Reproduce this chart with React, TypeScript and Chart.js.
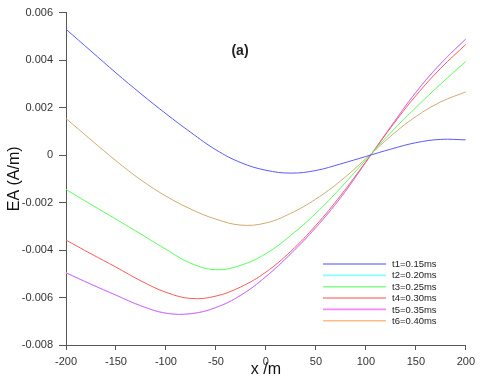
import React, { useEffect, useRef } from "react";
import { Chart, registerables } from "chart.js";

Chart.register(...registerables);

// x positions (m)
const xValues = [-200, -175, -150, -125, -100, -75, -50, -25, 0, 25, 50, 75, 100, 125, 150, 175, 200];
// EA values in units of 1e-3 A/m
const t1 = [5.30, 4.38, 3.46, 2.58, 1.74, 0.95, 0.22, -0.32, -0.64, -0.76, -0.65, -0.37, -0.06, 0.25, 0.52, 0.66, 0.64];
const t2 = [-4.96, -5.44, -5.90, -6.35, -6.66, -6.68, -6.42, -5.90, -5.12, -4.15, -3.05, -1.78, -0.30, 1.20, 2.64, 3.86, 4.89];
const t3 = [-1.45, -2.08, -2.70, -3.33, -3.97, -4.56, -4.83, -4.64, -4.15, -3.38, -2.45, -1.37, -0.20, 0.95, 2.00, 3.00, 3.94];
const t4 = [-3.58, -4.16, -4.72, -5.30, -5.78, -6.04, -5.94, -5.55, -4.93, -4.05, -2.96, -1.69, -0.28, 1.16, 2.50, 3.66, 4.66];
const t5 = [-4.96, -5.44, -5.90, -6.35, -6.66, -6.68, -6.42, -5.90, -5.12, -4.15, -3.05, -1.78, -0.30, 1.20, 2.64, 3.86, 4.89];
const t6 = [1.54, 0.64, -0.24, -1.05, -1.73, -2.28, -2.70, -2.95, -2.86, -2.45, -1.85, -1.08, -0.15, 0.80, 1.62, 2.24, 2.66];
const valueScale = 0.001;

const yTicks = [-0.008, -0.006, -0.004, -0.002, 0, 0.002, 0.004, 0.006];
const xTicks = [-200, -150, -100, -50, 0, 50, 100, 150, 200];

const seriesLabels = ["t1=0.15ms", "t2=0.20ms", "t3=0.25ms", "t4=0.30ms", "t5=0.35ms", "t6=0.40ms"];
const seriesValues = [t1, t2, t3, t4, t5, t6];
const lineColors = ["#5a5aff", "#5affff", "#5aff5a", "#ff5a5a", "#ff5aff", "#d2aa70"];
const legendColors = ["#8888ff", "#88ffff", "#88ff88", "#ff8888", "#ff88ff", "#ffbb88"];
const drawOrder = [0, 10, 0, 0, 0, 0];

const FONT = "'Liberation Sans', Arial, sans-serif";

const legendPlugin = {
  id: "customLegend",
  afterDraw(chart: any) {
    const ctx = chart.ctx;
    ctx.save();
    chart.data.datasets.forEach((ds: any, i: number) => {
      const y = 264 + i * 11.35;
      ctx.strokeStyle = legendColors[i];
      ctx.lineWidth = 1.6;
      ctx.beginPath();
      ctx.moveTo(323, y);
      ctx.lineTo(386, y);
      ctx.stroke();
      ctx.fillStyle = "#222";
      ctx.font = `9.5px ${FONT}`;
      ctx.textBaseline = "middle";
      ctx.textAlign = "left";
      ctx.fillText(ds.label, 392, y + 0.5);
    });
    ctx.fillStyle = "#222";
    ctx.font = `bold 14px ${FONT}`;
    ctx.textAlign = "center";
    ctx.textBaseline = "middle";
    ctx.fillText("(a)", 240, 51);
    ctx.restore();
  },
};

export default function App() {
  const ref = useRef<HTMLCanvasElement>(null);
  useEffect(() => {
    document.body.style.margin = "0";
    const canvas = ref.current!;
    const chart = new Chart(canvas, {
      type: "line",
      data: {
        datasets: seriesValues.map((vals, i) => ({
          label: seriesLabels[i],
          data: xValues.map((x, j) => ({ x, y: vals[j] * valueScale })),
          borderColor: lineColors[i],
          backgroundColor: lineColors[i],
          borderWidth: 1,
          pointRadius: 0,
          fill: false,
          tension: 0.4,
          order: drawOrder[i],
        })),
      },
      options: {
        animation: false,
        responsive: false,
        layout: { padding: { top: 10, right: 14, left: 0, bottom: 0 } },
        plugins: { legend: { display: false }, tooltip: { enabled: false } },
        scales: {
          x: {
            type: "linear",
            min: xTicks[0],
            max: xTicks[xTicks.length - 1],
            afterFit: (s: any) => { s.height = 33; },
            afterBuildTicks: (s: any) => { s.ticks = xTicks.map((v) => ({ value: v })); },
            ticks: { color: "#333", font: { family: FONT, size: 11 }, padding: 5, maxRotation: 0 },
            grid: { display: true, drawOnChartArea: false, drawTicks: true, tickLength: 5, color: "#555" },
            border: { display: true, color: "#555", width: 1 },
            title: { display: true, text: "x /m", color: "#111", font: { family: FONT, size: 16, lineHeight: 1 }, padding: 0 },
          },
          y: {
            type: "linear",
            min: yTicks[0],
            max: yTicks[yTicks.length - 1],
            afterFit: (s: any) => { s.width = 66; },
            afterBuildTicks: (s: any) => { s.ticks = yTicks.map((v) => ({ value: v })); },
            ticks: {
              color: "#333",
              font: { family: FONT, size: 11 },
              padding: 6,
              callback: (v: any) => (Math.abs(v) < 1e-9 ? "0" : Number(v).toFixed(3)),
            },
            grid: { display: true, drawOnChartArea: false, drawTicks: true, tickLength: 7, color: "#555" },
            border: { display: true, color: "#555", width: 1 },
            title: { display: true, text: "EA (A/m)", color: "#111", font: { family: FONT, size: 16, lineHeight: 1 }, padding: { top: 7, bottom: 0 } },
          },
        },
      },
      plugins: [legendPlugin],
    });
    return () => chart.destroy();
  }, []);
  return (
    <div style={{ width: 480, height: 378 }}>
      <canvas ref={ref} width={480} height={378} style={{ display: "block" }} />
    </div>
  );
}
